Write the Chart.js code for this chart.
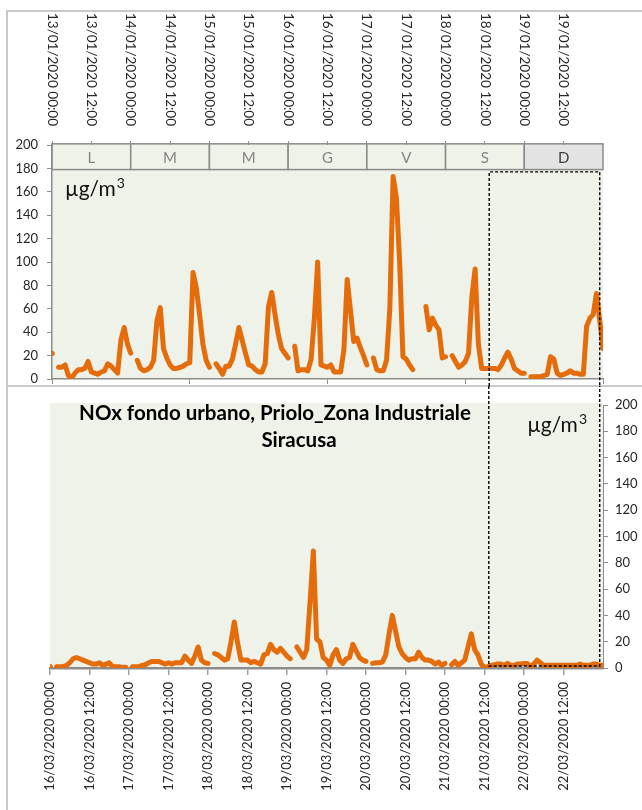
<!DOCTYPE html>
<html>
<head>
<meta charset="utf-8">
<title>NOx fondo urbano, Priolo_Zona Industriale Siracusa</title>
<script src="https://cdn.jsdelivr.net/npm/chart.js@4.4.1/dist/chart.umd.min.js"></script>
<style>
  html, body { margin: 0; padding: 0; background: #fff; }
  #page { position: relative; width: 642px; height: 810px; overflow: hidden; }
  .frame { position: absolute; left: 6px; top: 10px; width: 660px; height: 820px;
           border-left: 2px solid #c8c8c8; border-top: 2px solid #c8c8c8; }
  .sep { position: absolute; left: 6px; top: 385px; width: 640px; height: 2px; background: #c8c8c8; }
  canvas { position: absolute; left: 0; }
  #top { top: 0; }
  #bottom { top: 386px; }
</style>
</head>
<body>
<div id="page">
  <div class="frame"></div>
  <div class="sep"></div>
  <canvas id="top" width="642" height="386"></canvas>
  <canvas id="bottom" width="642" height="424"></canvas>
</div>
<script>
// giorni della settimana (striscia in alto)
const dayLabels = ["L", "M", "M", "G", "V", "S", "D"];

// etichette asse x, una ogni 12 ore
const topTickLabels = [
  "13/01/2020 00:00", "13/01/2020 12:00", "14/01/2020 00:00", "14/01/2020 12:00",
  "15/01/2020 00:00", "15/01/2020 12:00", "16/01/2020 00:00", "16/01/2020 12:00",
  "17/01/2020 00:00", "17/01/2020 12:00", "18/01/2020 00:00", "18/01/2020 12:00",
  "19/01/2020 00:00", "19/01/2020 12:00"
];
const bottomTickLabels = [
  "16/03/2020 00:00", "16/03/2020 12:00", "17/03/2020 00:00", "17/03/2020 12:00",
  "18/03/2020 00:00", "18/03/2020 12:00", "19/03/2020 00:00", "19/03/2020 12:00",
  "20/03/2020 00:00", "20/03/2020 12:00", "21/03/2020 00:00", "21/03/2020 12:00",
  "22/03/2020 00:00", "22/03/2020 12:00"
];

// NOx orario, 13-19 gennaio 2020 (una riga per giorno)
const janValues = [
  22, null, 10, 10, 12, 3, 1, 5, 8, 8, 9, 15, 6, 5, 4, 6, 7, 13, 11, 8, 5, 33, 44, 30,
  22, null, 16, 9, 7, 8, 10, 16, 50, 61, 26, 18, 12, 9, 9, 10, 11, 13, 14, 91, 78, 55, 30, 16,
  10, null, 13, 9, 4, 11, 11, 17, 30, 44, 33, 22, 12, 11, 8, 6, 6, 13, 62, 74, 55, 38, 26, 22,
  18, null, 28, 7, 8, 8, 7, 17, 52, 100, 12, 11, 10, 12, 6, 6, 6, 25, 85, 59, 32, 35, 27, 20,
  12, null, 18, 8, 7, 7, 16, 60, 173, 155, 100, 19, 17, 12, 8, null, null, null, 62, 42, 52, 46, 42, 18,
  19, null, 20, 15, 10, 12, 15, 22, 70, 94, 30, 9, 9, 9, 9, 9, 8, 12, 18, 23, 17, 9, 7, 5,
  5, null, 2, 2, 2, 2, 3, 4, 19, 17, 5, 3, 4, 5, 7, 5, 5, 4, 4, 45, 52, 55, 73, 50,
  26
];

// NOx orario, 16-22 marzo 2020
const marValues = [
  1, null, 1, 1, 1, 2, 4, 7, 8, 7, 6, 5, 4, 3, 3, 4, 2, 3, 4, 1, 1, 1, 0.5, 0.5,
  null, 1, 1, 1, 2, 2.5, 4, 5, 5, 5, 4, 3, 4, 3, 4, 4, 4, 9, 6, 3.5, 9, 16, 6, 4,
  3.5, null, 11, 10, 8, 6, 7, 20, 35, 19, 6, 6, 6, 4, 5, 4, 3, 10, 11, 18, 14, 12, 15, 12,
  9, 7, null, 16, 12, 8, 14, 50, 89, 22, 20, 8, 6, 2, 10, 14, 6, 3.5, 7, 8, 18, 13, 8, 6,
  5, null, 3.5, 4, 4, 4.5, 10, 26, 40, 28, 16, 11, 8, 6, 7, 7, 12, 8, 6, 6, 5, 3, 4.5, 2,
  3.5, null, 2.5, 5, 2, 4, 6, 16, 26, 14, 10, 3, 0.5, 1, 2, 2.5, 3, 3, 2, 3.5, 2, 2, 3, 3,
  3.5, 3.5, 1, 3, 6, 4, 2, 2, 2, 2, 2, 2, 2, 2, 2, 2, 2, 3, 2, 2, 2, 3, 3, 2,
  2
];

// riquadro tratteggiato (ore dall'inizio della settimana)
const boxFrom = 133.3;
const boxTo = 167;

const orange = "#E46C0A";
const plotBg = "#EFF2E9";
const axisGrey = "#8c8c8c";
const textDark = "#262626";

Chart.defaults.font.family = "Lato";
Chart.defaults.font.size = 13;
Chart.defaults.color = textDark;

function toPoints(values) {
  return values.map((v, i) => ({ x: i, y: v }));
}

// punto isolato tra due buchi: disegnato come pallino
function lonelyRadius(values) {
  return (ctx) => {
    const i = ctx.dataIndex;
    if (values[i] == null) return 0;
    const prev = i === 0 ? null : values[i - 1];
    const next = i === values.length - 1 ? null : values[i + 1];
    return prev == null && next == null ? 2.6 : 0;
  };
}

function lineDataset(values) {
  return {
    data: toPoints(values),
    borderColor: orange,
    backgroundColor: orange,
    borderWidth: 5,
    borderJoinStyle: "round",
    borderCapStyle: "round",
    pointRadius: lonelyRadius(values),
    pointBorderWidth: 0,
    tension: 0,
    spanGaps: false,
  };
}

function dashed(ctx) {
  ctx.strokeStyle = "#000";
  ctx.lineWidth = 1.4;
  ctx.setLineDash([3, 2]);
}

// µg/m con il 3 in apice
function unitLabel(ctx, x, y, align) {
  ctx.save();
  ctx.fillStyle = "#111";
  ctx.textBaseline = "alphabetic";
  ctx.textAlign = "left";
  ctx.font = "21px Lato";
  const w1 = ctx.measureText("µg/m").width;
  ctx.font = "14px Lato";
  const w2 = ctx.measureText("3").width;
  const left = align === "right" ? x - w1 - w2 - 1 : x;
  ctx.font = "21px Lato";
  ctx.fillText("µg/m", left, y);
  ctx.font = "14px Lato";
  ctx.fillText("3", left + w1 + 1, y - 8);
  ctx.restore();
}

const topDecor = {
  id: "topDecor",
  beforeDraw(chart) {
    const { ctx, chartArea } = chart;
    const xs = chart.scales.x, ys = chart.scales.y;
    const stripTop = ys.getPixelForValue(201);
    const stripBot = ys.getPixelForValue(179);
    ctx.save();
    ctx.fillStyle = plotBg;
    ctx.fillRect(chartArea.left, stripBot, chartArea.right - chartArea.left, chartArea.bottom - stripBot);
    // striscia dei giorni
    dayLabels.forEach((d, i) => {
      const x0 = xs.getPixelForValue(i * 24);
      const x1 = xs.getPixelForValue((i + 1) * 24);
      const last = i === dayLabels.length - 1;
      ctx.fillStyle = last ? "#e3e3e3" : plotBg;
      ctx.fillRect(x0, stripTop, x1 - x0, stripBot - stripTop);
      ctx.strokeStyle = "#8a8a8a";
      ctx.lineWidth = 1.5;
      ctx.strokeRect(x0, stripTop, x1 - x0, stripBot - stripTop);
      ctx.fillStyle = last ? "#404040" : "#858585";
      ctx.font = "15px Lato";
      ctx.textAlign = "center";
      ctx.textBaseline = "middle";
      ctx.fillText(d, (x0 + x1) / 2, (stripTop + stripBot) / 2 + 1);
    });
    ctx.restore();
  },
  afterDraw(chart) {
    const { ctx, chartArea } = chart;
    const xs = chart.scales.x, ys = chart.scales.y;
    ctx.save();
    // etichette in alto, ruotate in senso orario
    ctx.fillStyle = textDark;
    ctx.font = "13.5px Lato";
    ctx.textAlign = "right";
    ctx.textBaseline = "middle";
    topTickLabels.forEach((lab, i) => {
      const x = xs.getPixelForValue(i * 12);
      ctx.save();
      ctx.translate(x, chartArea.top - 19);
      ctx.rotate(Math.PI / 2);
      ctx.fillText(lab, 0, 0);
      ctx.restore();
    });
    unitLabel(ctx, chartArea.left + 13, ys.getPixelForValue(156), "left");
    // riquadro tratteggiato, parte alta
    const x0 = xs.getPixelForValue(boxFrom);
    const x1 = xs.getPixelForValue(boxTo);
    const y0 = ys.getPixelForValue(177);
    dashed(ctx);
    ctx.beginPath();
    ctx.moveTo(x0, chart.height);
    ctx.lineTo(x0, y0);
    ctx.lineTo(x1, y0);
    ctx.lineTo(x1, chart.height);
    ctx.stroke();
    ctx.restore();
  }
};

const bottomDecor = {
  id: "bottomDecor",
  beforeDraw(chart) {
    const { ctx, chartArea } = chart;
    ctx.save();
    ctx.fillStyle = plotBg;
    ctx.fillRect(chartArea.left, chartArea.top - 2, chartArea.right - chartArea.left, chartArea.bottom - chartArea.top + 2);
    ctx.restore();
  },
  afterDraw(chart) {
    const { ctx, chartArea } = chart;
    const xs = chart.scales.x, ys = chart.scales.y;
    ctx.save();
    ctx.fillStyle = "#000";
    ctx.font = "bold 20.5px Lato";
    ctx.textAlign = "center";
    ctx.textBaseline = "alphabetic";
    ctx.fillText("NOx fondo urbano, Priolo_Zona Industriale", chartArea.left + 225, chartArea.top + 15);
    ctx.fillText("Siracusa", chartArea.left + 249, chartArea.top + 42);
    unitLabel(ctx, chartArea.right - 16, chartArea.top + 27, "right");
    // riquadro tratteggiato, parte bassa
    const x0 = xs.getPixelForValue(boxFrom);
    const x1 = xs.getPixelForValue(boxTo);
    const y1 = ys.getPixelForValue(1.5);
    dashed(ctx);
    ctx.beginPath();
    ctx.moveTo(x0, 0);
    ctx.lineTo(x0, y1);
    ctx.lineTo(x1, y1);
    ctx.lineTo(x1, 0);
    ctx.stroke();
    ctx.restore();
  }
};

const noPlugins = { legend: { display: false }, tooltip: { enabled: false }, title: { display: false } };

new Chart(document.getElementById("top"), {
  type: "line",
  data: { datasets: [lineDataset(janValues)] },
  options: {
    responsive: false,
    animation: false,
    layout: { autoPadding: false, padding: { left: 0, right: 39, top: 0, bottom: 0 } },
    plugins: noPlugins,
    scales: {
      x: {
        type: "linear", position: "top", min: 0, max: 168,
        ticks: { display: false, stepSize: 12 },
        grid: {
          drawOnChartArea: false, tickLength: 4,
          color: (c) => (c.tick && c.tick.value === 168 ? "rgba(0,0,0,0)" : axisGrey),
        },
        border: { display: false },
        afterFit: (s) => { s.height = 145; },
      },
      xb: {
        type: "linear", position: "bottom", min: 0, max: 168,
        ticks: { display: false, stepSize: 42 },
        grid: { drawOnChartArea: false, tickLength: 5, color: axisGrey },
        border: { color: axisGrey, width: 1.5 },
        afterFit: (s) => { s.height = 7; },
      },
      y: {
        position: "left", min: 0, max: 200,
        ticks: { stepSize: 20, padding: 9 },
        grid: { drawOnChartArea: false, tickLength: 5, color: axisGrey },
        border: { color: axisGrey, width: 1.5 },
        // niente margine extra per le etichette estreme
        afterFit: (s) => { s.width = 52; s.paddingTop = 0; s.paddingBottom = 0; },
      },
    },
  },
  plugins: [topDecor],
});

new Chart(document.getElementById("bottom"), {
  type: "line",
  data: { datasets: [lineDataset(marValues)] },
  options: {
    responsive: false,
    animation: false,
    layout: { padding: { left: 50, right: 0, top: 19, bottom: 0 } },
    plugins: noPlugins,
    scales: {
      x: {
        type: "linear", position: "bottom", min: 0, max: 168,
        ticks: {
          stepSize: 12, autoSkip: false, minRotation: 90, maxRotation: 90, padding: 7,
          callback: (v) => bottomTickLabels[v / 12],
        },
        grid: { drawOnChartArea: false, tickLength: 7, color: "#a0a0a0", lineWidth: 1.5 },
        border: { color: axisGrey, width: 2.5 },
        afterFit: (s) => { s.height = 142; },
      },
      y: {
        position: "right", min: 0, max: 200,
        ticks: { stepSize: 20, padding: 7 },
        grid: { drawOnChartArea: false, tickLength: 5, color: axisGrey },
        border: { color: axisGrey, width: 1 },
        afterFit: (s) => { s.width = 39; },
      },
    },
  },
  plugins: [bottomDecor],
});
</script>
</body>
</html>
